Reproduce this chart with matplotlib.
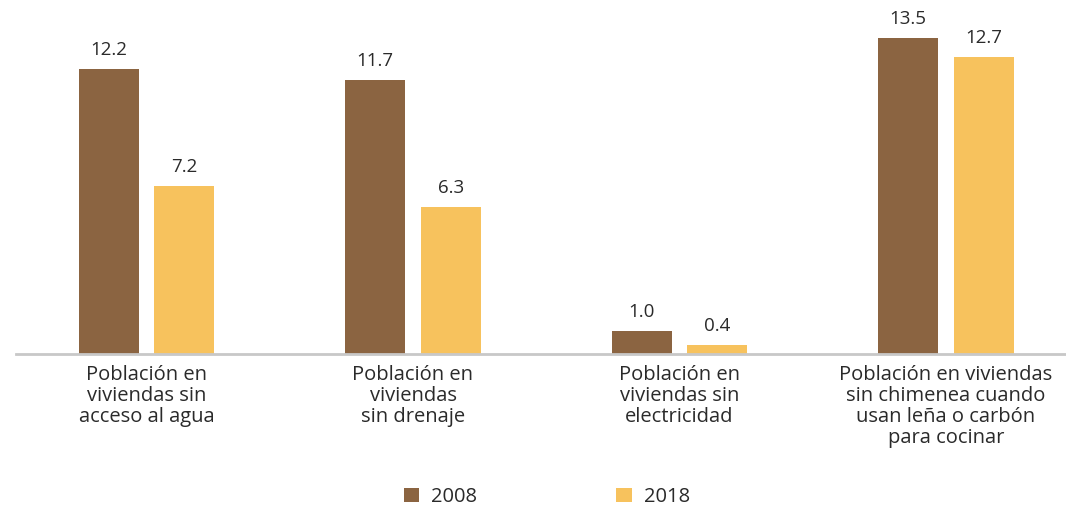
import matplotlib
matplotlib.use("Agg")
import matplotlib.pyplot as plt
from matplotlib.patches import Patch
import numpy as np

plt.rcParams['font.family'] = ['Open Sans', 'DejaVu Sans']

categories = [
    "Población en\nviviendas sin\nacceso al agua",
    "Población en\nviviendas\nsin drenaje",
    "Población en\nviviendas sin\nelectricidad",
    "Población en viviendas\nsin chimenea cuando\nusan leña o carbón\npara cocinar",
]
series_names = ["2008", "2018"]
values_2008 = [12.2, 11.7, 1.0, 13.5]
values_2018 = [7.2, 6.3, 0.4, 12.7]

color_2008 = "#8B6441"
color_2018 = "#F7C25D"
text_color = "#2a2a2a"

fig = plt.figure(figsize=(10.66, 5.08), dpi=100)
ax = fig.add_axes([0, 154 / 508, 1, 351 / 508])

x = np.arange(len(categories))
width = 0.225
offset = 0.1417

bars1 = ax.bar(x - offset, values_2008, width, color=color_2008)
bars2 = ax.bar(x + offset, values_2018, width, color=color_2018)

for bars in (bars1, bars2):
    for b in bars:
        ax.annotate(f"{b.get_height():.1f}",
                    (b.get_x() + b.get_width() / 2, b.get_height()),
                    xytext=(0, 7), textcoords="offset points",
                    ha="center", va="bottom", fontsize=13.5, color=text_color)

ax.set_xlim(-146.5 / 266.5, (1066 - 146.5) / 266.5)
ax.set_ylim(0, 15)

for s in ("top", "left", "right"):
    ax.spines[s].set_visible(False)
ax.spines["bottom"].set_color("#c8c8c8")
ax.spines["bottom"].set_linewidth(2)
ax.spines["bottom"].set_bounds((16 - 146.5) / 266.5, 4)

ax.set_yticks([])
ax.set_xticks(x)
ax.set_xticklabels(categories, fontsize=14.5, color=text_color, linespacing=1.07)
ax.tick_params(axis="x", length=0, pad=8)

handles = [Patch(facecolor=color_2008), Patch(facecolor=color_2018)]
fig.legend(handles, series_names, loc="center", bbox_to_anchor=(547 / 1066, 1 - 497 / 508),
           ncol=2, frameon=False, fontsize=14.5, handlelength=0.75, handleheight=0.65,
           handletextpad=0.6, columnspacing=6.9, labelcolor=text_color)

fig.savefig("out.png", dpi=100)
